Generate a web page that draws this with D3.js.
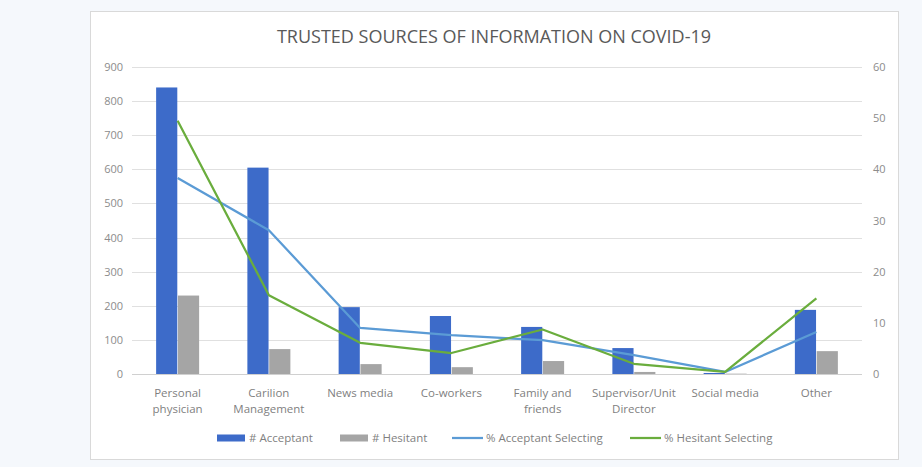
<!DOCTYPE html>
<html>
<head>
<meta charset="utf-8">
<script src="https://cdn.jsdelivr.net/npm/d3@7"></script>
<style>
  html, body { margin: 0; padding: 0; background: #f5f8fc; }
  svg { display: block; font-family: "Open Sans", Calibri, "Liberation Sans", sans-serif; }
</style>
</head>
<body>
<svg id="chart" width="922" height="467"></svg>
<script>
// Trusted sources of information on COVID-19
const categories = [
  ["Personal", "physician"],
  ["Carilion", "Management"],
  ["News media"],
  ["Co-workers"],
  ["Family and", "friends"],
  ["Supervisor/Unit", "Director"],
  ["Social media"],
  ["Other"]
];
const acceptantCount = [840, 605, 196, 170, 138, 76, 3, 188];
const hesitantCount  = [230, 73, 29, 20, 38, 6, 1, 67];
const acceptantPct   = [38.3, 28.1, 9.0, 7.6, 6.6, 3.7, 0.4, 8.2];
const hesitantPct    = [49.5, 15.4, 6.1, 4.1, 8.7, 2.0, 0.4, 14.8];
const leftTicks  = [0, 100, 200, 300, 400, 500, 600, 700, 800, 900];
const rightTicks = [0, 10, 20, 30, 40, 50, 60];
const seriesNames = ["# Acceptant", "# Hesitant", "% Acceptant Selecting", "% Hesitant Selecting"];

const colors = {
  acc: "#3d6bc9",
  hes: "#a5a5a5",
  accLine: "#5b9bd5",
  hesLine: "#6aad3d"
};

const svg = d3.select("#chart");

// chart frame
svg.append("rect")
  .attr("x", 90.5).attr("y", 11.5)
  .attr("width", 808).attr("height", 448)
  .attr("fill", "#ffffff")
  .attr("stroke", "#d9d9d9");

const plot = { left: 132, right: 862, top: 67, bottom: 374 };

const x = d3.scaleBand()
  .domain(d3.range(categories.length))
  .range([plot.left, plot.right]);

const xInner = d3.scaleBand()
  .domain([0, 1])
  .range([0, 43])
  .paddingInner(0.03);

const yLeft = d3.scaleLinear().domain([0, 900]).range([plot.bottom, plot.top]);
const yRight = d3.scaleLinear().domain([0, 60]).range([plot.bottom, plot.top]);

// title
svg.append("text")
  .attr("x", 494).attr("y", 43)
  .attr("text-anchor", "middle")
  .attr("font-size", 18)
  .attr("fill", "#595959")
  .text("TRUSTED SOURCES OF INFORMATION ON COVID-19");

// gridlines
svg.append("g")
  .selectAll("line")
  .data(leftTicks.filter(d => d > 0))
  .join("line")
  .attr("x1", plot.left).attr("x2", plot.right)
  .attr("y1", d => Math.round(yLeft(d)) + 0.5)
  .attr("y2", d => Math.round(yLeft(d)) + 0.5)
  .attr("stroke", "#e0e0e0");

// left axis
const leftAxis = d3.axisLeft(yLeft).tickValues(leftTicks).tickSize(0).tickPadding(9);
const gL = svg.append("g").attr("transform", `translate(${plot.left},0)`).call(leftAxis);
gL.select(".domain").remove();
gL.selectAll("text").attr("font-size", 11).attr("fill", "#8c8c8c")
  .attr("font-family", "'Open Sans', sans-serif");

// right axis
const rightAxis = d3.axisRight(yRight).tickValues(rightTicks).tickSize(0).tickPadding(11);
const gR = svg.append("g").attr("transform", `translate(${plot.right},0)`).call(rightAxis);
gR.select(".domain").remove();
gR.selectAll("text").attr("font-size", 11).attr("fill", "#8c8c8c")
  .attr("font-family", "'Open Sans', sans-serif");

// bars
const barOffset = (x.bandwidth() - 43) / 2;
const bars = svg.append("g");
bars.selectAll("rect.acc")
  .data(acceptantCount)
  .join("rect")
  .attr("class", "acc")
  .attr("x", (d, i) => x(i) + barOffset + xInner(0))
  .attr("width", xInner.bandwidth())
  .attr("y", d => yLeft(d))
  .attr("height", d => yLeft(0) - yLeft(d))
  .attr("fill", colors.acc);
bars.selectAll("rect.hes")
  .data(hesitantCount)
  .join("rect")
  .attr("class", "hes")
  .attr("x", (d, i) => x(i) + barOffset + xInner(1))
  .attr("width", xInner.bandwidth())
  .attr("y", d => yLeft(d))
  .attr("height", d => yLeft(0) - yLeft(d))
  .attr("fill", colors.hes);

// baseline
svg.append("line")
  .attr("x1", plot.left).attr("x2", plot.right)
  .attr("y1", plot.bottom + 0.5).attr("y2", plot.bottom + 0.5)
  .attr("stroke", "#d0d0d0");

// lines
const line = d3.line()
  .x((d, i) => x(i) + x.bandwidth() / 2)
  .y(d => yRight(d));
svg.append("path")
  .datum(acceptantPct)
  .attr("d", line)
  .attr("fill", "none")
  .attr("stroke", colors.accLine)
  .attr("stroke-width", 2.25)
  .attr("stroke-linejoin", "round");
svg.append("path")
  .datum(hesitantPct)
  .attr("d", line)
  .attr("fill", "none")
  .attr("stroke", colors.hesLine)
  .attr("stroke-width", 2.25)
  .attr("stroke-linejoin", "round");

// category labels
const catG = svg.append("g");
categories.forEach((lines, i) => {
  const t = catG.append("text")
    .attr("x", x(i) + x.bandwidth() / 2)
    .attr("y", 397)
    .attr("text-anchor", "middle")
    .attr("font-size", 11.5)
    .attr("fill", "#7f7f7f");
  lines.forEach((s, j) => {
    t.append("tspan")
      .attr("x", x(i) + x.bandwidth() / 2)
      .attr("dy", j === 0 ? 0 : 16)
      .text(s);
  });
});

// legend
const legend = svg.append("g");
const legendItems = [
  { name: seriesNames[0], type: "rect", color: colors.acc, x: 217 },
  { name: seriesNames[1], type: "rect", color: colors.hes, x: 340 },
  { name: seriesNames[2], type: "line", color: colors.accLine, x: 452 },
  { name: seriesNames[3], type: "line", color: colors.hesLine, x: 630 }
];
const ly = 438;
legendItems.forEach(it => {
  if (it.type === "rect") {
    legend.append("rect")
      .attr("x", it.x).attr("y", ly - 3.5)
      .attr("width", 28).attr("height", 7)
      .attr("fill", it.color);
  } else {
    legend.append("line")
      .attr("x1", it.x).attr("x2", it.x + 31)
      .attr("y1", ly).attr("y2", ly)
      .attr("stroke", it.color).attr("stroke-width", 2.25);
  }
  legend.append("text")
    .attr("x", it.x + (it.type === "rect" ? 32 : 34))
    .attr("y", ly + 4)
    .attr("font-size", 11.5)
    .attr("fill", "#7f7f7f")
    .text(it.name);
});
</script>
</body>
</html>
